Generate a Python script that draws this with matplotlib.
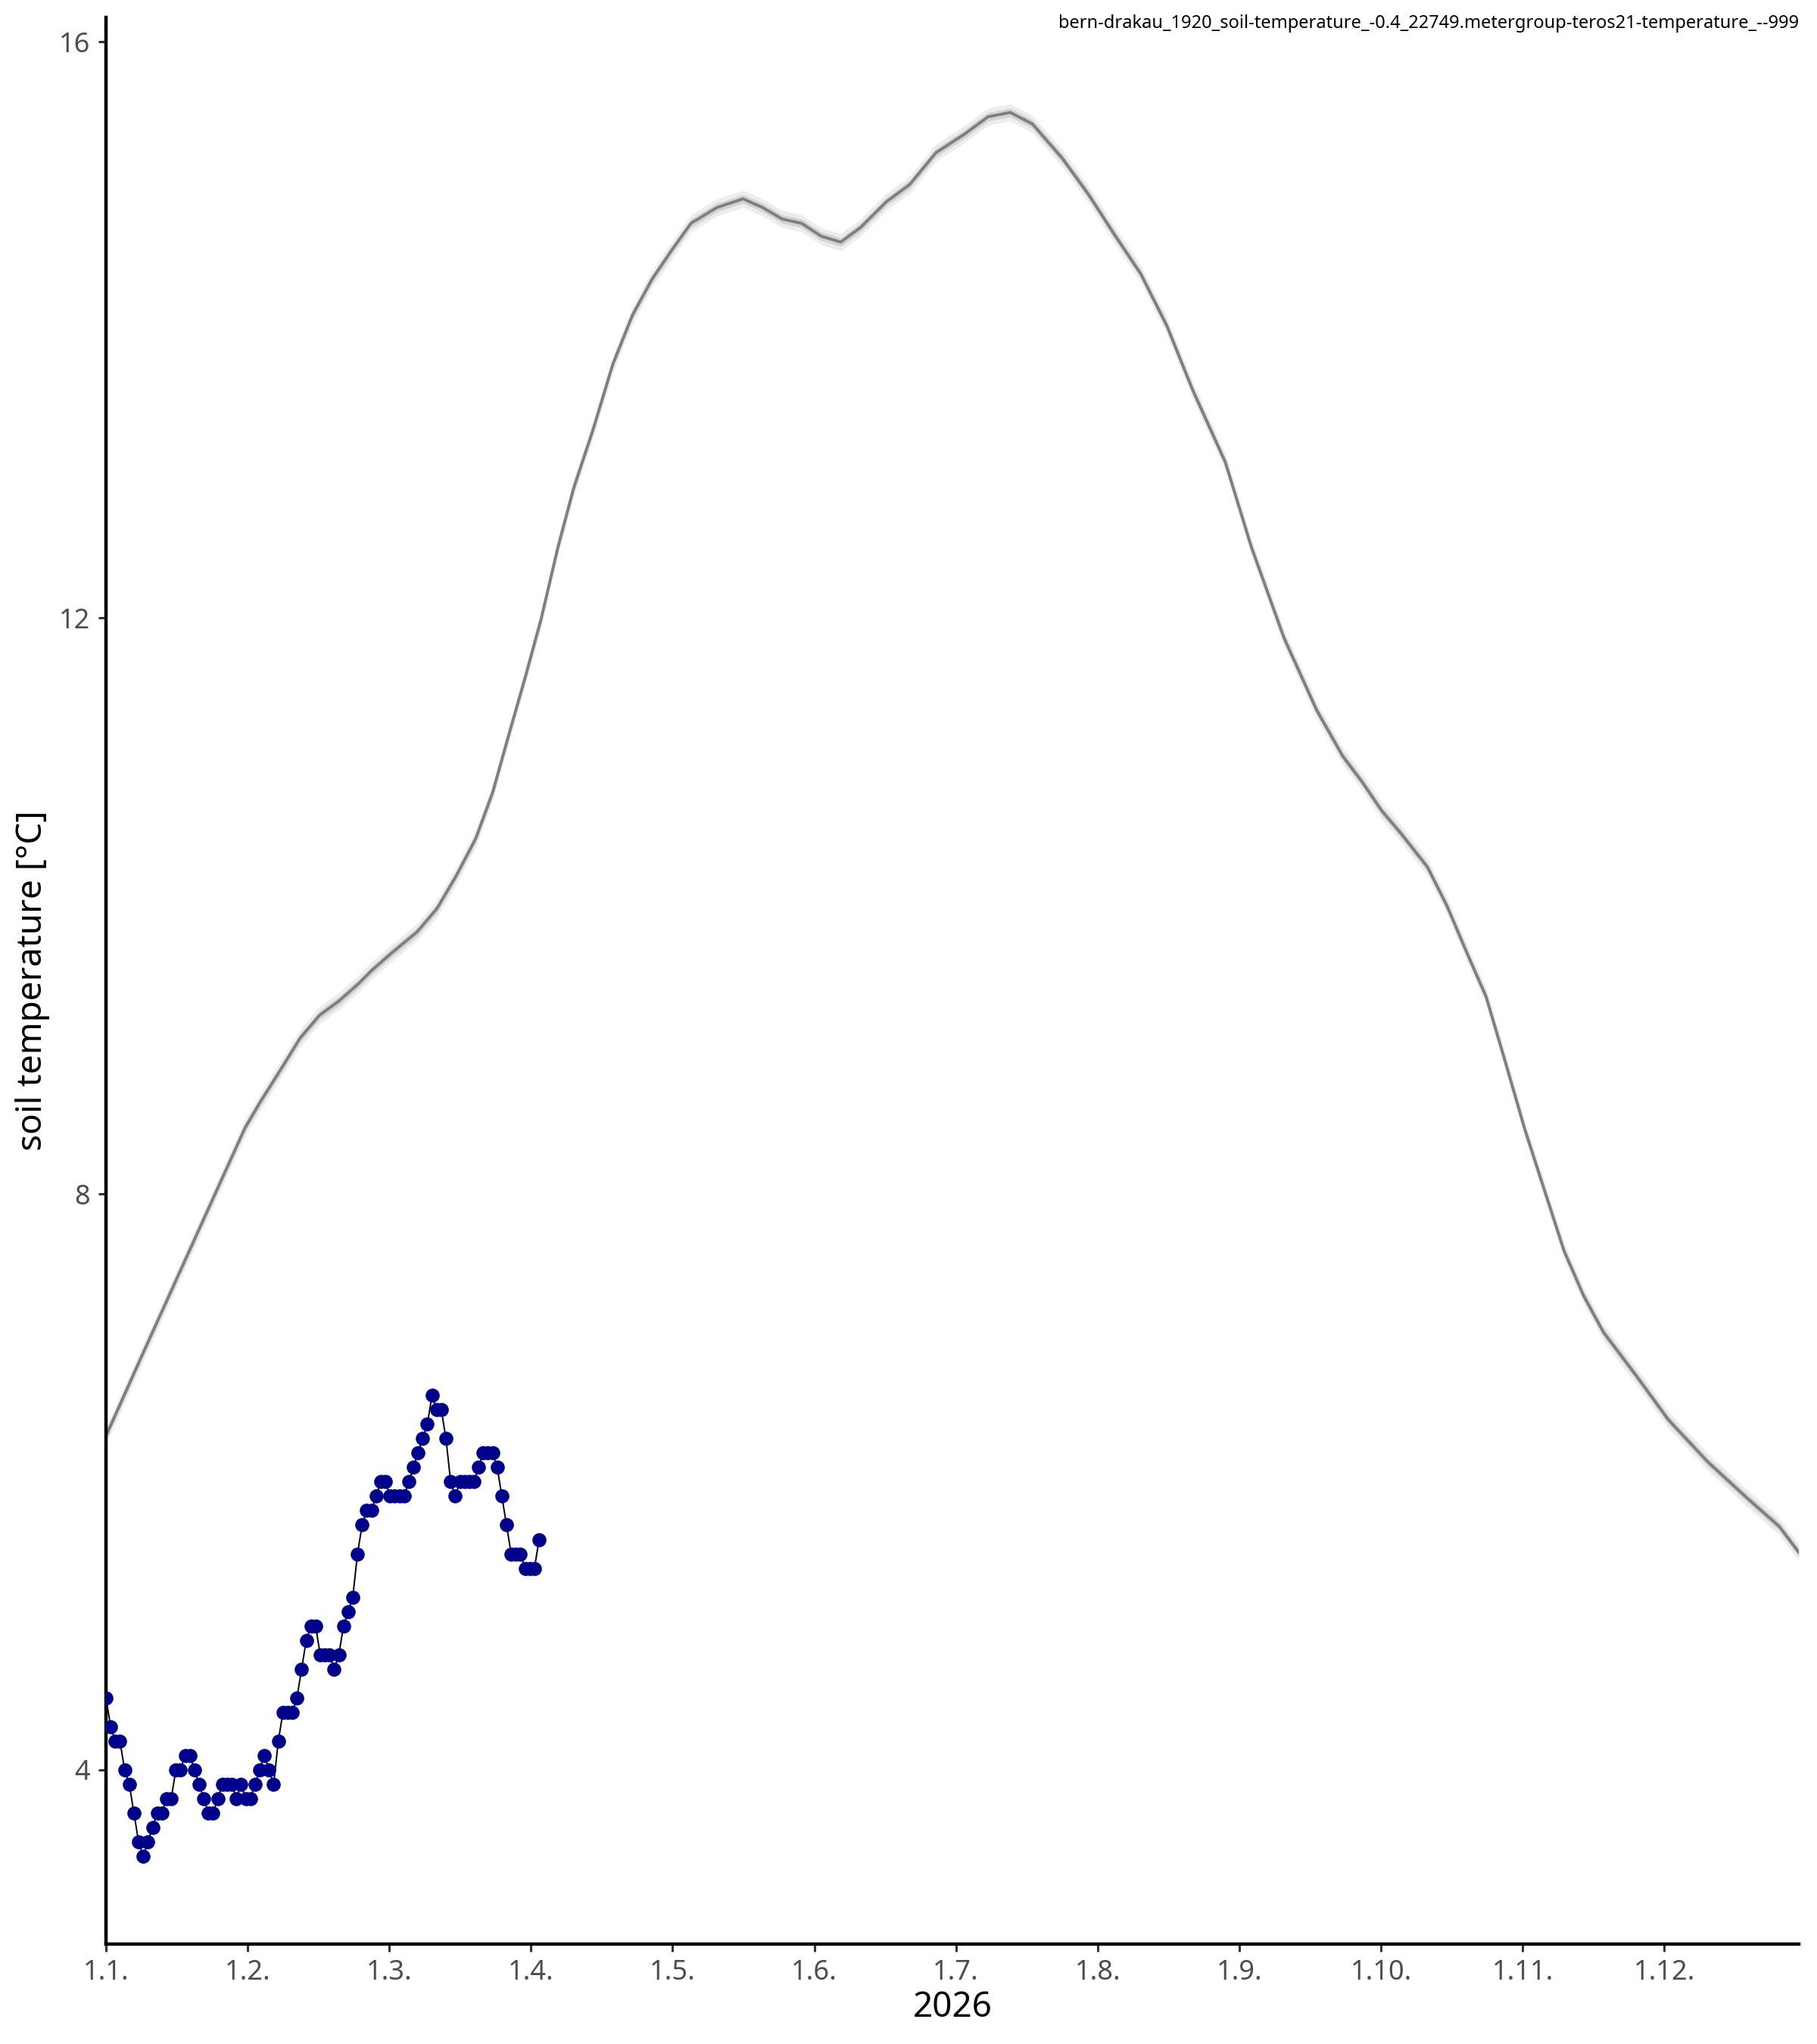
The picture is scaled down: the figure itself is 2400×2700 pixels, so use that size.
import matplotlib
matplotlib.use("Agg")
import matplotlib.pyplot as plt
import numpy as np

plt.rcParams['font.family'] = ['Noto Sans', 'DejaVu Sans']

# long-term mean curve (x in months since 1 Jan, value in degC)
clim_month = [0.00, 0.264, 0.540, 0.770, 0.982, 1.090, 1.231, 1.369, 1.507, 1.645,
              1.783, 1.874, 2.013, 2.197, 2.335, 2.473, 2.611, 2.730, 2.841, 2.960,
              3.071, 3.190, 3.301, 3.439, 3.577, 3.715, 3.853, 3.991, 4.129, 4.313,
              4.497, 4.635, 4.773, 4.911, 5.049, 5.187, 5.325, 5.509, 5.674, 5.858,
              6.061, 6.227, 6.383, 6.540, 6.752, 6.936, 7.120, 7.304, 7.488, 7.672,
              7.902, 8.086, 8.316, 8.546, 8.730, 8.868, 9.006, 9.144, 9.328, 9.466,
              9.604, 9.742, 9.880, 10.018, 10.202, 10.294, 10.432, 10.570, 10.800,
              11.030, 11.306, 11.582, 11.812, 11.950]
clim_temp = [6.32, 6.90, 7.50, 8.00, 8.46, 8.64, 8.86, 9.08, 9.24, 9.34,
             9.46, 9.55, 9.67, 9.82, 9.98, 10.21, 10.47, 10.79, 11.18, 11.59,
             11.99, 12.49, 12.90, 13.31, 13.76, 14.10, 14.35, 14.55, 14.74, 14.85,
             14.91, 14.85, 14.77, 14.74, 14.65, 14.61, 14.71, 14.89, 15.01, 15.23,
             15.36, 15.48, 15.51, 15.43, 15.19, 14.94, 14.66, 14.39, 14.03, 13.58,
             13.08, 12.49, 11.86, 11.36, 11.04, 10.86, 10.66, 10.50, 10.27, 10.00,
             9.68, 9.37, 8.91, 8.44, 7.88, 7.60, 7.29, 7.04, 6.74,
             6.43, 6.14, 5.89, 5.69, 5.51]

# daily values 2026 (from 1 Jan)
daily_temp = [4.5, 4.3, 4.2, 4.2, 4.0, 3.9, 3.7, 3.5, 3.4, 3.5,
              3.6, 3.7, 3.7, 3.8, 3.8, 4.0, 4.0, 4.1, 4.1, 4.0,
              3.9, 3.8, 3.7, 3.7, 3.8, 3.9, 3.9, 3.9, 3.8, 3.9,
              3.8, 3.8, 3.9, 4.0, 4.1, 4.0, 3.9, 4.2, 4.4, 4.4,
              4.4, 4.5, 4.7, 4.9, 5.0, 5.0, 4.8, 4.8, 4.8, 4.7,
              4.8, 5.0, 5.1, 5.2, 5.5, 5.7, 5.8, 5.8, 5.9, 6.0,
              6.0, 5.9, 5.9, 5.9, 5.9, 6.0, 6.1, 6.2, 6.3, 6.4,
              6.6, 6.5, 6.5, 6.3, 6.0, 5.9, 6.0, 6.0, 6.0, 6.0,
              6.1, 6.2, 6.2, 6.2, 6.1, 5.9, 5.7, 5.5, 5.5, 5.5,
              5.4, 5.4, 5.4, 5.6]

tick_labels = ["1.1.", "1.2.", "1.3.", "1.4.", "1.5.", "1.6.",
               "1.7.", "1.8.", "1.9.", "1.10.", "1.11.", "1.12."]

title = "bern-drakau_1920_soil-temperature_-0.4_22749.metergroup-teros21-temperature_--999"

cm = np.array(clim_month)
ct = np.array(clim_temp)
day_x = np.arange(len(daily_temp)) / (365 / 12)

fig = plt.figure(figsize=(12, 13.5), dpi=200)
ax = fig.add_axes([140 / 2400, 1 - 2568 / 2700, (2376 - 140) / 2400, (2568 - 23) / 2700])

ax.fill_between(cm, ct - 0.06, ct + 0.06, color="#bbbbbb", alpha=0.25, lw=0)
ax.fill_between(cm, ct - 0.03, ct + 0.03, color="#999999", alpha=0.3, lw=0)
ax.plot(cm, ct, color="#7f7f7f", lw=1.4, solid_joinstyle="round", solid_capstyle="round")

ax.plot(day_x, daily_temp, color="black", lw=0.7, zorder=3)
ax.plot(day_x, daily_temp, "o", color="#00008b", ms=6.7, mec="none", zorder=4)

ax.set_xlim(0, 11.95)
ax.set_ylim(2.79, 16.17)
ax.set_xticks(range(12))
ax.set_xticklabels(tick_labels)
ax.set_yticks([4, 8, 12, 16])

for s in ["top", "right"]:
    ax.spines[s].set_visible(False)
for s in ["left", "bottom"]:
    ax.spines[s].set_linewidth(1.6)
    ax.spines[s].set_color("black")

ax.tick_params(axis="both", length=3.6, width=1.1, color="#333333",
               labelcolor="#4d4d4d", labelsize=13)
ax.tick_params(axis="x", pad=3.5)
ax.tick_params(axis="y", pad=4)

ax.set_xlabel("2026", fontsize=16.5, labelpad=2)
ax.set_ylabel("soil temperature [°C]", fontsize=16.5, labelpad=4)

fig.text(2376 / 2400, 1 - 31 / 2700, title, ha="right", va="center", fontsize=8.5)

fig.savefig("out.png", dpi=200)
